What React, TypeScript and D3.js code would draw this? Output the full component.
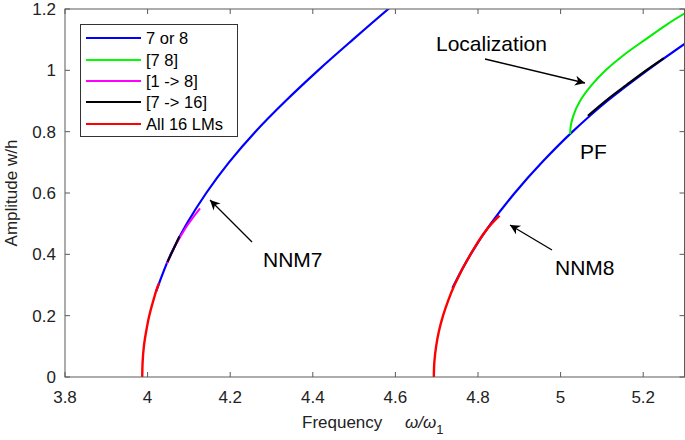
import React, { useEffect, useRef } from "react";
import * as d3 from "d3";

const xTicks = [3.8, 4, 4.2, 4.4, 4.6, 4.8, 5, 5.2];
const yTicks = [0, 0.2, 0.4, 0.6, 0.8, 1, 1.2];

// [frequency, amplitude] pairs
const nnm7Blue: [number, number][] = [
  [4.021, 0.28], [4.056, 0.4], [4.095, 0.5], [4.142, 0.6], [4.197, 0.7], [4.261, 0.8],
  [4.334, 0.9], [4.413, 1.0], [4.497, 1.1], [4.583, 1.2], [4.605, 1.225],
];
const nnm8Blue: [number, number][] = [
  [4.738, 0.29], [4.782, 0.4], [4.831, 0.5], [4.889, 0.6], [4.955, 0.7], [5.029, 0.8],
  [5.113, 0.9], [5.21, 1.0], [5.315, 1.1],
];
const green78: [number, number][] = [
  [5.023, 0.792], [5.0247, 0.82], [5.0303, 0.85], [5.047, 0.9], [5.074, 0.95],
  [5.109, 1.0], [5.153, 1.05], [5.205, 1.1], [5.258, 1.15], [5.318, 1.2],
];
const magenta7: [number, number][] = [
  [4.047, 0.37], [4.068, 0.43], [4.094, 0.49], [4.127, 0.55],
];
const black7: [number, number][] = [
  [4.048, 0.375], [4.062, 0.415], [4.077, 0.458],
];
const black8: [number, number][] = [
  [5.066, 0.852], [5.113, 0.905], [5.159, 0.952], [5.207, 1.0], [5.25, 1.04],
];
const red7: [number, number][] = [
  [3.987, 0], [3.988, 0.05], [3.991, 0.1], [3.9967, 0.15], [4.004, 0.2],
  [4.014, 0.25], [4.026, 0.3], [4.028, 0.306],
];
const red8: [number, number][] = [
  [4.693, 0], [4.6944, 0.05], [4.6986, 0.1], [4.7055, 0.15], [4.7154, 0.2],
  [4.728, 0.25], [4.743, 0.3], [4.782, 0.4], [4.833, 0.5], [4.852, 0.526],
];

const legendLabels = ["7 or 8", "[7 8]", "[1 -> 8]", "[7 -> 16]", "All 16 LMs"];
const legendColors = ["#0000ff", "#00ff00", "#ff00ff", "#000000", "#ff0000"];

export default function App() {
  const ref = useRef<SVGSVGElement>(null);
  useEffect(() => {
    const svg = d3.select(ref.current);
    svg.selectAll("*").remove();
    const L = 65, R = 684.5, T = 9, B = 377;
    const x = d3.scaleLinear().domain([3.8, 5.3]).range([L, R]);
    const y = d3.scaleLinear().domain([0, 1.2]).range([B, T]);
    const font = "'Liberation Sans', Arial, Helvetica, sans-serif";
    const axisColor = "#5a5a5a";

    const defs = svg.append("defs");
    defs.append("clipPath").attr("id", "clip")
      .append("rect").attr("x", L).attr("y", T).attr("width", R - L).attr("height", B - T);
    defs.append("marker").attr("id", "arrow")
      .attr("viewBox", "0 0 10 10").attr("refX", 10).attr("refY", 5)
      .attr("markerWidth", 18).attr("markerHeight", 10).attr("markerUnits", "userSpaceOnUse")
      .attr("orient", "auto")
      .append("path").attr("d", "M0,0 L10,5 L0,10 L3,5 Z").attr("fill", "#000");

    const g = svg.append("g").attr("clip-path", "url(#clip)");
    const line = d3.line<[number, number]>()
      .x(d => x(d[0])).y(d => y(d[1])).curve(d3.curveMonotoneY);
    const draw = (data: [number, number][], color: string, w: number) =>
      g.append("path").attr("d", line(data)!).attr("fill", "none")
        .attr("stroke", color).attr("stroke-width", w).attr("stroke-linecap", "butt");
    draw(nnm7Blue, "#0000ff", 2.2);
    draw(nnm8Blue, "#0000ff", 2.2);
    draw(green78, "#00ee00", 2);
    draw(magenta7, "#ff00ff", 2);
    draw(black7, "#000000", 2);
    draw(black8, "#000000", 2);
    draw(red7, "#ff0000", 2.4);
    draw(red8, "#ff0000", 2.4);

    // axes box
    svg.append("rect").attr("x", L).attr("y", T).attr("width", R - L).attr("height", B - T)
      .attr("fill", "none").attr("stroke", axisColor).attr("stroke-width", 1);
    const tl = 5;
    xTicks.forEach(t => {
      svg.append("line").attr("x1", x(t)).attr("x2", x(t)).attr("y1", B).attr("y2", B - tl)
        .attr("stroke", axisColor);
      svg.append("line").attr("x1", x(t)).attr("x2", x(t)).attr("y1", T).attr("y2", T + tl)
        .attr("stroke", axisColor);
      svg.append("text").attr("x", x(t)).attr("y", 403).attr("text-anchor", "middle")
        .attr("font-family", font).attr("font-size", 17).attr("fill", "#222").text(String(t));
    });
    yTicks.forEach(t => {
      svg.append("line").attr("x1", L).attr("x2", L + tl).attr("y1", y(t)).attr("y2", y(t))
        .attr("stroke", axisColor);
      svg.append("line").attr("x1", R).attr("x2", R - tl).attr("y1", y(t)).attr("y2", y(t))
        .attr("stroke", axisColor);
      svg.append("text").attr("x", 56).attr("y", y(t) + 6).attr("text-anchor", "end")
        .attr("font-family", font).attr("font-size", 17).attr("fill", "#222").text(String(t));
    });

    // axis labels
    svg.append("text").attr("transform", `translate(17,${(T + B) / 2}) rotate(-90)`)
      .attr("text-anchor", "middle").attr("font-family", font).attr("font-size", 17)
      .attr("fill", "#222").text("Amplitude w/h");
    const xl = svg.append("text").attr("x", 302).attr("y", 428)
      .attr("font-family", font).attr("font-size", 17).attr("fill", "#222");
    xl.append("tspan").text("Frequency");
    xl.append("tspan").attr("x", 405).attr("font-style", "italic").text("ω/ω");
    xl.append("tspan").attr("dy", 6).attr("font-size", 13).text("1");

    // legend
    const lg = svg.append("g");
    lg.append("rect").attr("x", 80.5).attr("y", 24.5).attr("width", 157).attr("height", 112)
      .attr("fill", "#fff").attr("stroke", "#333").attr("stroke-width", 1);
    const ly = [38, 60, 81, 102, 124];
    legendLabels.forEach((lab, i) => {
      lg.append("line").attr("x1", 86).attr("x2", 141).attr("y1", ly[i]).attr("y2", ly[i])
        .attr("stroke", legendColors[i]).attr("stroke-width", 2);
      lg.append("text").attr("x", 146).attr("y", ly[i] + 6).attr("font-family", font)
        .attr("font-size", 16.5).attr("fill", "#000").text(lab);
    });

    // annotations
    const ann = (tx: string, ax: number, ay: number) =>
      svg.append("text").attr("x", ax).attr("y", ay).attr("font-family", font)
        .attr("font-size", 21).attr("fill", "#000").text(tx);
    ann("Localization", 436, 51);
    ann("PF", 580, 159);
    ann("NNM7", 263, 267);
    ann("NNM8", 555, 275);
    const arrow = (x1: number, y1: number, x2: number, y2: number) =>
      svg.append("line").attr("x1", x1).attr("y1", y1).attr("x2", x2).attr("y2", y2)
        .attr("stroke", "#000").attr("stroke-width", 1.3).attr("marker-end", "url(#arrow)");
    arrow(485, 59, 585, 83);
    arrow(252, 242, 210, 200);
    arrow(552, 250, 510, 225);
  }, []);
  return (
    <svg ref={ref} width={685} height={440}
      style={{ position: "absolute", left: 0, top: 0, background: "#fff" }} />
  );
}
